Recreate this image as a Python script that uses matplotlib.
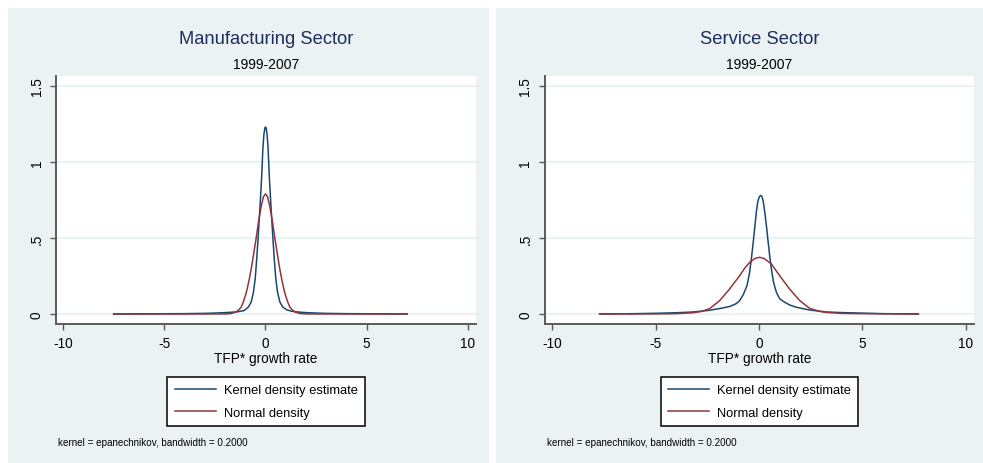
import matplotlib
matplotlib.use("Agg")
import matplotlib.pyplot as plt
from matplotlib.patches import Rectangle

plt.rcParams['font.family'] = ['Liberation Sans', 'DejaVu Sans']

# ----- Data -----
titles = ["Manufacturing Sector", "Service Sector"]
subtitle = "1999-2007"
xlabel = "TFP* growth rate"
legend_labels = ["Kernel density estimate", "Normal density"]
note = "kernel = epanechnikov, bandwidth = 0.2000"
xticks = [-10, -5, 0, 5, 10]
yticks = [0, 0.5, 1, 1.5]
ytick_labels = ["0", ".5", "1", "1.5"]

# Manufacturing: kernel density
mfg_kde_x = [-7.5, -6, -4, -3, -2.5, -2, -1.6, -1.3, -1.05, -0.85, -0.71, -0.6, -0.51,
             -0.44, -0.38, -0.31, -0.25, -0.19, -0.13, -0.08, -0.03, 0, 0.03, 0.08,
             0.13, 0.19, 0.25, 0.31, 0.38, 0.44, 0.51, 0.6, 0.71, 0.85, 1.05, 1.3,
             1.6, 2, 2.5, 3, 4, 5.5, 7]
mfg_kde_y = [0.0, 0.001, 0.002, 0.004, 0.006, 0.009, 0.012, 0.016, 0.023, 0.045, 0.077,
             0.14, 0.23, 0.35, 0.47, 0.62, 0.757, 0.9, 1.086, 1.18, 1.225, 1.23, 1.225,
             1.18, 1.086, 0.9, 0.757, 0.62, 0.47, 0.35, 0.23, 0.14, 0.079, 0.046,
             0.027, 0.018, 0.013, 0.009, 0.006, 0.004, 0.002, 0.001, 0.0]
# Manufacturing: normal density
mfg_norm_x = [-7.5, -3, -2, -1.7, -1.45, -1.3, -1.2, -1.08, -0.95, -0.83, -0.7, -0.58,
              -0.46, -0.33, -0.21, -0.1, 0, 0.1, 0.21, 0.33, 0.46, 0.58, 0.7, 0.83,
              0.95, 1.08, 1.2, 1.3, 1.45, 1.7, 2, 3, 7]
mfg_norm_y = [0.0, 0.0, 0.0003, 0.003, 0.013, 0.03, 0.046, 0.085, 0.14, 0.21, 0.30,
              0.40, 0.50, 0.62, 0.71, 0.772, 0.79, 0.772, 0.71, 0.62, 0.50, 0.40, 0.30,
              0.21, 0.14, 0.085, 0.046, 0.03, 0.013, 0.003, 0.0003, 0.0, 0.0]

# Service: kernel density
srv_kde_x = [-7.7, -6, -4.8, -4, -3.2, -2.4, -1.8, -1.4, -1.1, -0.93, -0.75, -0.58,
             -0.47, -0.37, -0.28, -0.21, -0.12, -0.05, 0.02, 0.08, 0.14, 0.2, 0.28,
             0.36, 0.43, 0.52, 0.6, 0.7, 0.84, 1.0, 1.24, 1.5, 1.81, 2.45, 3.26, 4,
             4.86, 6, 7.7]
srv_kde_y = [0.0, 0.002, 0.005, 0.008, 0.013, 0.024, 0.038, 0.05, 0.068, 0.088, 0.13,
             0.186, 0.26, 0.36, 0.47, 0.56, 0.68, 0.745, 0.772, 0.78, 0.774, 0.745,
             0.67, 0.58, 0.49, 0.38, 0.296, 0.21, 0.143, 0.1, 0.077, 0.058, 0.044,
             0.026, 0.013, 0.009, 0.006, 0.002, 0.0]
# Service: normal density
srv_norm_x = [-7.7, -5, -4, -3.2, -2.8, -2.38, -1.9, -1.42, -1.18, -0.93, -0.7, -0.45,
              -0.2, 0.03, 0.25, 0.6, 0.8, 1.0, 1.24, 1.48, 1.97, 2.45, 2.9, 3.26, 4,
              4.86, 7.7]
srv_norm_y = [0.0, 0.0005, 0.002, 0.008, 0.016, 0.035, 0.088, 0.164, 0.208, 0.252,
              0.30, 0.34, 0.365, 0.373, 0.365, 0.329, 0.29, 0.252, 0.208, 0.164,
              0.088, 0.037, 0.018, 0.01, 0.004, 0.002, 0.0]

panels = [
    (mfg_kde_x, mfg_kde_y, mfg_norm_x, mfg_norm_y),
    (srv_kde_x, srv_kde_y, srv_norm_x, srv_norm_y),
]

# ----- Style -----
W, H = 983, 464
bg = "#eaf2f3"
blue = "#1a476f"
red = "#90353b"
navy = "#1e2d5e"
axis_gray = "#5a5a5a"

# pixel layout per panel: background box, axes box, xlim
layout = [
    dict(bg=(8, 9, 489, 464), ax=(56, 77, 476, 325), xlim=(-10.35, 10.4)),
    dict(bg=(496, 9, 983, 464), ax=(545, 77, 974, 325), xlim=(-10.34, 10.39)),
]

fig = plt.figure(figsize=(W / 100, H / 100), dpi=100)
fig.patch.set_facecolor("white")


def fx(px):
    return px / W


def fy(py):
    return 1 - py / H


for i, (kx, ky, nx, ny) in enumerate(panels):
    lay = layout[i]
    x0, y0, x1, y1 = lay["bg"]
    fig.patches.append(Rectangle((fx(x0), fy(y1)), fx(x1) - fx(x0), fy(y0) - fy(y1),
                                 transform=fig.transFigure, facecolor=bg,
                                 edgecolor="none", zorder=-5))
    a0, b0, a1, b1 = lay["ax"]
    ax = fig.add_axes([fx(a0), fy(b1), fx(a1) - fx(a0), fy(b0) - fy(b1)])
    ax.set_facecolor("white")
    ax.plot(kx, ky, color=blue, lw=1.1, label=legend_labels[0], zorder=3)
    ax.plot(nx, ny, color=red, lw=1.1, label=legend_labels[1], zorder=4)
    ax.set_xlim(*lay["xlim"])
    ax.set_ylim(-0.066, 1.566)
    ax.set_xticks(xticks)
    ax.set_xticklabels([str(t) for t in xticks])
    ax.set_yticks(yticks)
    ax.set_yticklabels(ytick_labels, rotation=90, va="center")
    ax.yaxis.grid(True, color=bg, lw=1.6, zorder=0)
    ax.set_axisbelow(True)
    for s in ["top", "right"]:
        ax.spines[s].set_visible(False)
    for s in ["left", "bottom"]:
        ax.spines[s].set_color(axis_gray)
        ax.spines[s].set_linewidth(1.4)
    ax.tick_params(axis="x", length=4.5, width=1, color=axis_gray, pad=4,
                   labelsize=9.8, labelcolor="black")
    ax.tick_params(axis="y", length=4, width=1, color=axis_gray, pad=5,
                   labelsize=9.8, labelcolor="black")

    cx = fx((a0 + a1) / 2)
    fig.text(cx, fy(39), titles[i], ha="center", va="center", fontsize=13.2, color=navy)
    fig.text(cx, fy(65), subtitle, ha="center", va="center", fontsize=10, color="black")
    fig.text(cx, fy(359), xlabel, ha="center", va="center", fontsize=9.8, color="black")
    fig.text(fx(a0 + 2), fy(443), note, ha="left", va="center", fontsize=7.1, color="black")

    leg = ax.legend(loc="center", bbox_to_anchor=(cx, fy(402.5)),
                    bbox_transform=fig.transFigure, fontsize=9.3, frameon=True,
                    fancybox=False, edgecolor="black", facecolor="white",
                    framealpha=1, handlelength=3.2, handletextpad=0.6,
                    labelspacing=0.8, borderpad=0.55, borderaxespad=0)
    leg.get_frame().set_linewidth(1.1)

fig.savefig("out.png", dpi=100, facecolor=fig.get_facecolor())
